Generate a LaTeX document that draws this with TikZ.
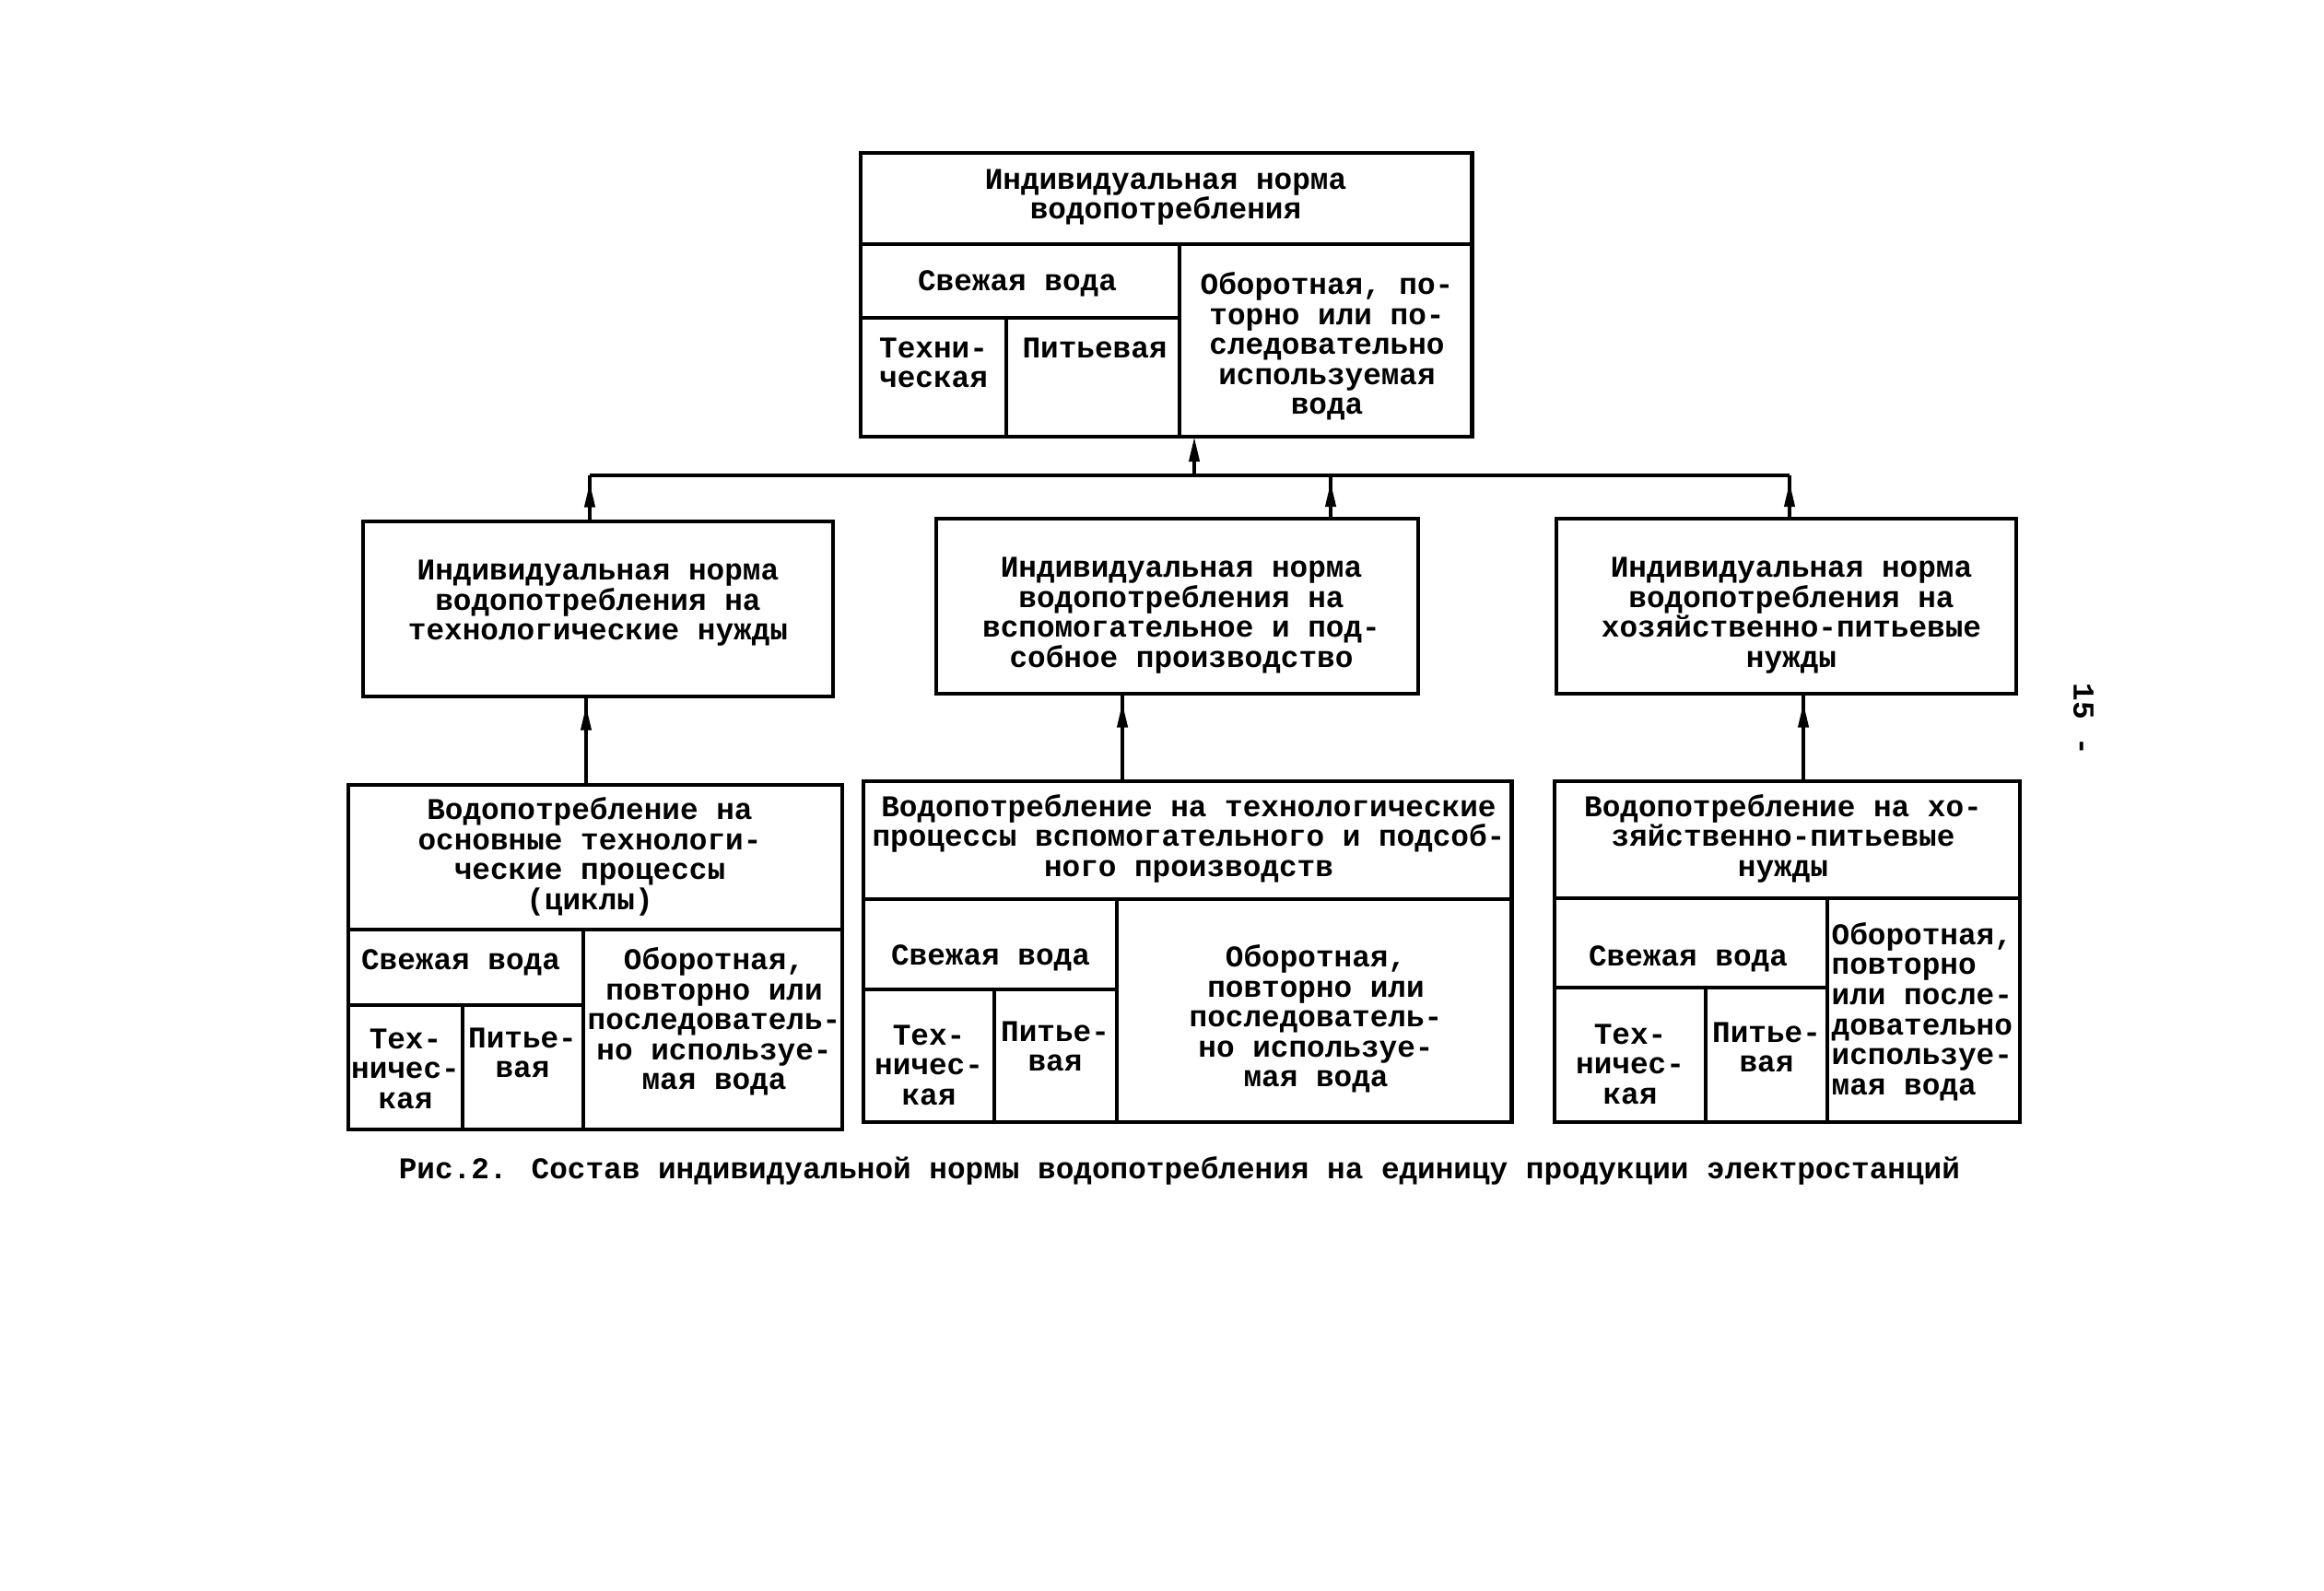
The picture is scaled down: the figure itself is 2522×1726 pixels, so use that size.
\documentclass[tikz,border=0pt]{standalone}
\usepackage{fontspec}
\setmainfont{Liberation Mono}
\usetikzlibrary{arrows.meta,decorations.markings}
\tikzset{
  box/.style={draw, line width=1.3pt, inner sep=0pt, outer sep=0pt},
  divider/.style={line width=1.2pt},
  conn/.style={line width=1.1pt},
  txt/.style={font=\fontsize{9.3}{9.25}\selectfont\bfseries, align=center, inner sep=0pt},
  txtl/.style={txt, align=left, anchor=west},
  arrowend/.style={-{Triangle[length=0.27cm,width=0.11cm]}},
  midarrow/.style={postaction={decorate}, decoration={markings, mark=at position #1 with {\arrow{Triangle[length=0.27cm,width=0.11cm]}}}},
}
\begin{document}
\begin{tikzpicture}[x=0.01cm, y=-0.01cm]
\useasboundingbox (0,0) rectangle (2522,1726);
\fill[white] (0,0) rectangle (2522,1726);

% ---------- top box ----------
\node[box, minimum width=6.63cm, minimum height=3.08cm] (T) at (1265.5,320) {};
\draw[divider] (934,265) -- (1597,265);
\draw[divider] (1280,265) -- (1280,474);
\draw[divider] (934,345) -- (1280,345);
\draw[divider] (1092,345) -- (1092,474);
\node[txt] (Tt) at (1265,214) {Индивидуальная норма\\водопотребления};
\node[txt] (Tf) at (1104,308) {Свежая вода};
\node[txt] (Tte) at (1013,394) {Техни-\\ческая};
\node[txt] (Tp) at (1188,378) {Питьевая};
\node[txt] (To) at (1440,376) {Оборотная, по-\\торно или по-\\следовательно\\используемая\\вода};

% ---------- middle boxes ----------
\node[box, minimum width=5.10cm, minimum height=1.90cm] (A) at (649,661) {};
\node[txt] (At) at (649,655) {Индивидуальная норма\\водопотребления на\\технологические нужды};
\node[box, minimum width=5.23cm, minimum height=1.90cm] (B) at (1277.5,658) {};
\node[txt] (Bt) at (1282,668) {Индивидуальная норма\\водопотребления на\\вспомогательное и под-\\собное производство};
\node[box, minimum width=4.99cm, minimum height=1.90cm] (C) at (1938.5,658) {};
\node[txt] (Ct) at (1944,668) {Индивидуальная норма\\водопотребления на\\хозяйственно-питьевые\\нужды};

% ---------- bottom box D ----------
\node[box, minimum width=5.36cm, minimum height=3.74cm] (D) at (646,1039) {};
\draw[divider] (378,1009) -- (914,1009);
\draw[divider] (633,1009) -- (633,1226);
\draw[divider] (378,1091) -- (633,1091);
\draw[divider] (502,1091) -- (502,1226);
\node[txt] (Dt) at (640,930) {Водопотребление на\\основные технологи-\\ческие процессы\\(циклы)};
\node[txt] (Df) at (500,1045) {Свежая вода};
\node[txt] (Dte) at (440,1160) {Тех-\\ничес-\\кая};
\node[txt] (Dp) at (567,1143) {Питье-\\вая};
\node[txt] (Do) at (775,1109) {Оборотная,\\повторно или\\последователь-\\но используе-\\мая вода};

% ---------- bottom box E ----------
\node[box, minimum width=7.03cm, minimum height=3.70cm] (E) at (1288.5,1033) {};
\draw[divider] (937,976) -- (1640,976);
\draw[divider] (1212,976) -- (1212,1218);
\draw[divider] (937,1074) -- (1212,1074);
\draw[divider] (1079,1074) -- (1079,1218);
\node[txt] (Et) at (1290,910) {Водопотребление на технологические\\процессы вспомогательного и подсоб-\\ного производств};
\node[txt] (Ef) at (1075,1040) {Свежая вода};
\node[txt] (Ete) at (1008,1156) {Тех-\\ничес-\\кая};
\node[txt] (Ep) at (1145,1136) {Питье-\\вая};
\node[txt] (Eo) at (1428,1106) {Оборотная,\\повторно или\\последователь-\\но используе-\\мая вода};

% ---------- bottom box F ----------
\node[box, minimum width=5.05cm, minimum height=3.70cm] (F) at (1939.5,1033) {};
\draw[divider] (1687,975) -- (2192,975);
\draw[divider] (1983,975) -- (1983,1218);
\draw[divider] (1687,1072) -- (1983,1072);
\draw[divider] (1851,1072) -- (1851,1218);
\node[txt] (Ft) at (1935,910) {Водопотребление на хо-\\зяйственно-питьевые\\нужды};
\node[txt] (Ff) at (1832,1041) {Свежая вода};
\node[txt] (Fte) at (1769,1155) {Тех-\\ничес-\\кая};
\node[txt] (Fp) at (1917,1137) {Питье-\\вая};
\node[txtl] (Fo) at (1987,1098) {Оборотная,\\повторно\\или после-\\довательно\\используе-\\мая вода};

% ---------- connectors ----------
\coordinate (busL) at (640,516);
\coordinate (busC) at (1296,516);
\coordinate (busM) at (1444,516);
\coordinate (busR) at (1942,516);
\coordinate (xa) at (636,0);
\coordinate (xb) at (1218,0);
\coordinate (xc) at (1957,0);
\draw[conn] (busL) -- (busR);
\draw[conn, arrowend] (busC) -- (T.south -| busC);
\draw[conn, midarrow=0.85] (A.north -| busL) -- (busL);
\draw[conn, midarrow=0.85] (B.north -| busM) -- (busM);
\draw[conn, midarrow=0.85] (C.north -| busR) -- (busR);
\draw[conn, midarrow=0.9] (D.north -| xa) -- (A.south -| xa);
\draw[conn, midarrow=0.9] (E.north -| xb) -- (B.south -| xb);
\draw[conn, midarrow=0.9] (F.north -| xc) -- (C.south -| xc);

% ---------- caption and page number ----------
\node[txt] (cap) at (1280,1271) {Рис.2. Состав индивидуальной нормы водопотребления на единицу продукции электростанций};
\node[txt, rotate=-90] (pg) at (2261,781) {15 -};
\end{tikzpicture}
\end{document}
